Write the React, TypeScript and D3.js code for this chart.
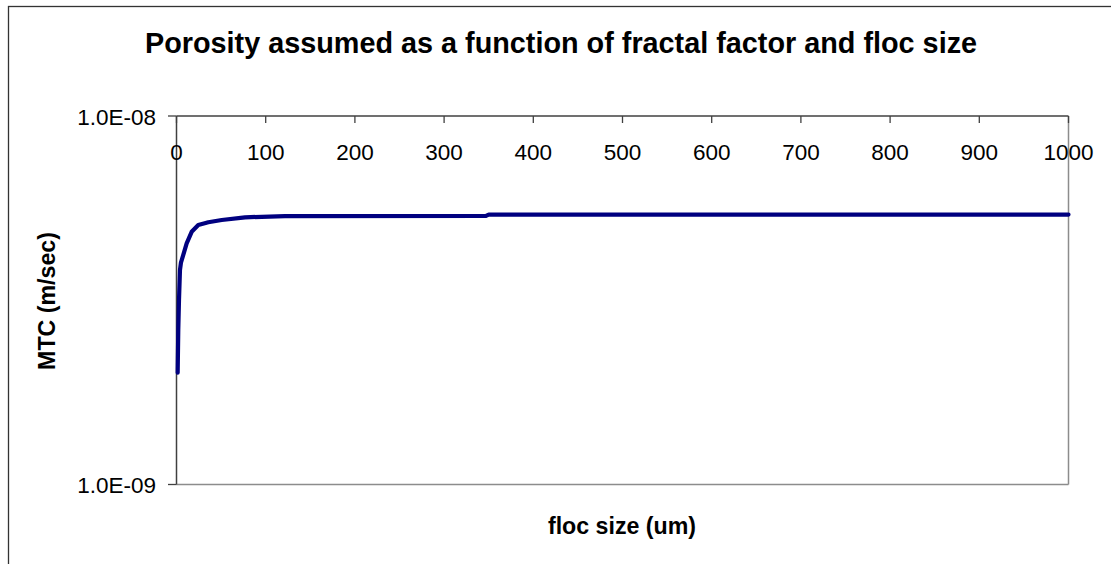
import React from "react";
import * as d3 from "d3";

// Floc size (um) and the mass transfer coefficient (m/sec) computed for it
const flocSize = [1.3, 2.0, 2.8, 3.9, 5.0, 7.6, 11.4, 17, 24.4, 35.7, 50.7, 76.8, 121.6, 347, 350, 1000];
const mtc = [
  2.01e-9, 2.63e-9, 3.17e-9, 3.82e-9, 4.0e-9, 4.2e-9, 4.51e-9, 4.85e-9, 5.06e-9, 5.15e-9,
  5.22e-9, 5.31e-9, 5.35e-9, 5.36e-9, 5.4e-9, 5.4e-9,
];

const xTicks = [0, 100, 200, 300, 400, 500, 600, 700, 800, 900, 1000];
const yTicks = [1e-9, 1e-8];
const yTickLabels = ["1.0E-09", "1.0E-08"];

const title = "Porosity assumed as a function of fractal factor and floc size";
const xTitle = "floc size (um)";
const yTitle = "MTC (m/sec)";

const W = 1111;
const H = 564;
const FONT = "'Liberation Sans', Arial, Helvetica, sans-serif";

export default function App() {
  const left = 176.5;
  const right = 1068.5;
  const top = 116;
  const bottom = 484.5;

  const x = d3.scaleLinear().domain([0, 1000]).range([left, right]);
  const y = d3.scaleLog().domain([1e-9, 1e-8]).range([bottom, top]);

  const pts = flocSize.map((f, i) => [f, mtc[i]] as [number, number]);
  const line = d3
    .line<[number, number]>()
    .x((d) => x(d[0]))
    .y((d) => y(d[1]));

  return (
    <svg
      width={W}
      height={H}
      style={{ position: "absolute", left: 0, top: 0, display: "block", background: "#fff" }}
    >
      {/* chart frame */}
      <rect x={8.5} y={6.5} width={1120} height={600} fill="#fff" stroke="#333" strokeWidth={1.3} />

      <text x={561} y={53} textAnchor="middle" fontFamily={FONT} fontWeight="bold" fontSize={28.8} fill="#000">
        {title}
      </text>

      {/* plot area border (right / bottom) */}
      <line x1={right} x2={right} y1={top} y2={bottom} stroke="#8c8c8c" strokeWidth={1.5} />
      <line x1={left} x2={right} y1={bottom} y2={bottom} stroke="#8c8c8c" strokeWidth={1.5} />

      {/* y axis */}
      <line x1={left} x2={left} y1={top} y2={bottom} stroke="#404040" strokeWidth={1.5} />
      {yTicks.map((t, i) => (
        <g key={t}>
          <line x1={left - 8.5} x2={left} y1={y(t)} y2={y(t)} stroke="#404040" strokeWidth={1.3} />
          <text
            x={156}
            y={y(t) + 8.5}
            textAnchor="end"
            fontFamily={FONT}
            fontSize={22.5}
            fill="#000"
          >
            {yTickLabels[i]}
          </text>
        </g>
      ))}

      {/* x axis along the top */}
      <line x1={left} x2={right} y1={top} y2={top} stroke="#404040" strokeWidth={1.5} />
      {xTicks.map((t) => (
        <g key={t}>
          <line x1={x(t)} x2={x(t)} y1={top} y2={top + 7} stroke="#404040" strokeWidth={1.3} />
          <text x={x(t)} y={160} textAnchor="middle" fontFamily={FONT} fontSize={22.5} fill="#000">
            {t}
          </text>
        </g>
      ))}

      {/* data series */}
      <path
        d={line(pts) ?? ""}
        fill="none"
        stroke="#000080"
        strokeWidth={4.2}
        strokeLinejoin="round"
        strokeLinecap="round"
      />

      <text x={622} y={534} textAnchor="middle" fontFamily={FONT} fontWeight="bold" fontSize={23.2} fill="#000">
        {xTitle}
      </text>
      <text
        transform="translate(55,301) rotate(-90)"
        textAnchor="middle"
        fontFamily={FONT}
        fontWeight="bold"
        fontSize={23.2}
        fill="#000"
      >
        {yTitle}
      </text>
    </svg>
  );
}
